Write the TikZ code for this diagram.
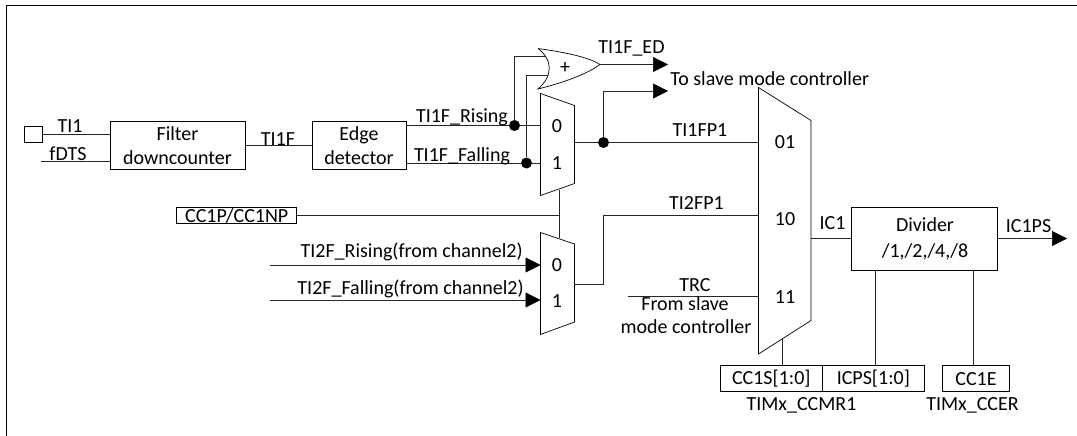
\documentclass[tikz,border=0pt]{standalone}
\usepackage{fontspec}
\setmainfont{Carlito}
\usetikzlibrary{arrows.meta}
\tikzset{
  box/.style={draw,inner sep=0pt,align=center,font=\lbl},
  lab/.style={inner sep=0pt,font=\lbl},
  wire/.style={line width=0.7pt,black!85},
  arr/.style={wire,-{Triangle[length=15pt,width=15pt,color=black,fill=black]}},
  dot/.style={circle,fill=black,inner sep=0pt,minimum size=11pt}
}
\newcommand{\lbl}{\fontsize{20}{23}\selectfont}
\begin{document}
\begin{tikzpicture}[x=1pt,y=-1pt,line width=0.7pt]
\useasboundingbox (0,0) rectangle (1077,436);
% outer frame
\draw[line width=1pt] (1077,6) -- (6.5,6) -- (6.5,436);

% input side
\node[box,minimum width=18pt,minimum height=16pt] (pin) at (33,134) {};
\node[box,minimum width=135pt,minimum height=48pt] (filter) at (177.5,145.5) {Filter\\[1pt]downcounter};
\node[box,minimum width=94pt,minimum height=48pt] (edge) at (359,145.5) {Edge\\[1pt]detector};
\node[box,minimum width=120pt,minimum height=16pt] (pol) at (236.7,215.5) {CC1P/CC1NP};
\coordinate (fdts) at (41,161);
\coordinate (r2in) at (270,265);
\coordinate (f2in) at (270,300);
\coordinate (trcin) at (628,296.5);

% muxes
\draw (540.5,93.5) -- (574.5,105.5) -- (574.5,183.5) -- (540.5,195.5) -- cycle;
\draw (540.5,232.5) -- (574.5,244) -- (574.5,322) -- (540.5,334.5) -- cycle;
\draw (758.5,87.5) -- (811,120.5) -- (811,320.5) -- (758.5,354) -- cycle;
\foreach \y/\t in {126/0,163/1} \node[lab] at (557,\y) {\t};
\foreach \y/\t in {265/0,301/1} \node[lab] at (557,\y) {\t};
\foreach \y/\t in {142/01,219/10,297/11} \node[lab] at (785,\y) {\t};

% or gate
\draw (538,48.5) .. controls (570,53) and (590,58) .. (600,64.5)
  .. controls (590,72) and (570,81) .. (538,89)
  .. controls (553,76) and (553,60) .. (538,48.5);
\node[lab] at (565,68) {+};
\coordinate (ortip) at (600,64.5);
\coordinate (ora) at (545,56.5);
\coordinate (orb) at (548,75.5);

% junctions and mux pins
\node[dot] (jr) at (514.5,125.5) {};
\node[dot] (jf) at (526.5,163) {};
\node[dot] (jo) at (603.5,142.5) {};
\coordinate (m1a) at (540.5,125.5);
\coordinate (m1b) at (540.5,163);
\coordinate (m1o) at (574.5,142.5);
\coordinate (m1s) at (559,190);
\coordinate (m2a) at (540.5,265);
\coordinate (m2b) at (540.5,300);
\coordinate (m2o) at (574.5,284.5);
\coordinate (m2s) at (559,238);
\coordinate (big1) at (758.5,142.5);
\coordinate (big2) at (758.5,215);
\coordinate (big3) at (758.5,296.5);
\coordinate (bigo) at (811,238.5);
\coordinate (bigs) at (782.5,339);
\coordinate (edout) at (668,64.5);
\coordinate (slave) at (668,91);
\coordinate (ic1ps) at (1067,238.5);

% right side
\node[box,minimum width=146pt,minimum height=63pt] (div) at (924.7,238.7) {};
\node[box,minimum width=102pt,minimum height=26pt] (ccs) at (771.3,378.7) {CC1S[1:0]};
\node[box,minimum width=102pt,minimum height=26pt] (icps) at (873.3,378.7) {ICPS[1:0]};
\node[box,minimum width=67pt,minimum height=26pt] (cce) at (976,378.7) {CC1E};

% wires
\draw[wire] (pin.east) -- (pin.east -| filter.west);
\draw[wire] (fdts) -- (fdts -| filter.west);
\draw[wire] (filter.east) -- (edge.west);
\draw[wire] (edge.east |- jr) -- (jr) -- (m1a);
\draw[wire] (edge.east |- jf) -- (jf) -- (m1b);
\draw[wire] (jr) |- (ora);
\draw[wire] (jf) |- (orb);
\draw[arr] (ortip) -- (edout);
\draw[wire] (m1o) -- (jo) -- (big1);
\draw[arr] (jo) |- (slave);
\draw[wire] (pol.east) -| (m2s);
\draw[wire] (m1s) -- (m2s);
\draw[arr] (r2in) -- (m2a);
\draw[arr] (f2in) -- (m2b);
\draw[wire] (m2o) -| (603.5,215) -- (big2);
\draw[wire] (trcin) -- (big3);
\draw[wire] (bigo) -- (bigo -| div.west);
\draw[arr] (bigo -| div.east) -- (ic1ps);
\draw[wire] (bigs) -- (bigs |- ccs.north);
\draw[wire] (875.7,0 |- icps.north) -- (875.7,0 |- div.south);
\draw[wire] (973.3,0 |- cce.north) -- (973.3,0 |- div.south);

% labels
\node[lab] at (925,225) {Divider};
\node[lab] at (925,252) {/1,/2,/4,/8};
\node[lab] (ti1) at (70,126) {TI1};
\node[lab] (fd) at (68,154) {fDTS};
\node[lab] (ti1f) at (278,139) {TI1F};
\node[lab] (rise) at (462,117) {TI1F\_Rising};
\node[lab] (fall) at (462,156) {TI1F\_Falling};
\node[lab] (ed) at (631.5,48) {TI1F\_ED};
\node[lab,anchor=west] (tos) at (670,78.5) {To slave mode controller};
\node[lab] (fp1) at (700,130) {TI1FP1};
\node[lab] (fp2) at (696.5,203) {TI2FP1};
\node[lab,anchor=east] (r2) at (523,251.5) {TI2F\_Rising(from channel2)};
\node[lab,anchor=east] (f2) at (524,289) {TI2F\_Falling(from channel2)};
\node[lab] (trc) at (695,285) {TRC};
\node[lab] (fs1) at (685,304) {From slave};
\node[lab] (fs2) at (686,327) {mode controller};
\node[lab] (ic) at (832.5,223) {IC1};
\node[lab] (ips) at (1028.5,226) {IC1PS};
\node[lab] (ccmr) at (801.5,405) {TIMx\_CCMR1};
\node[lab] (ccer) at (972.5,405) {TIMx\_CCER};
\end{tikzpicture}
\end{document}
